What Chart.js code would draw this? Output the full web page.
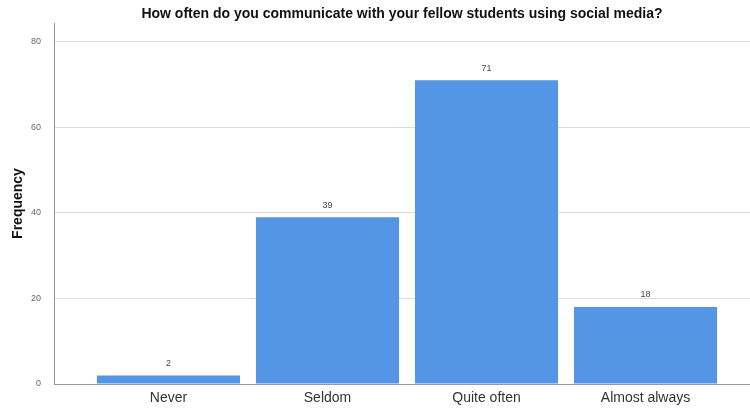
<!DOCTYPE html>
<html>
<head>
<meta charset="utf-8">
<script src="https://cdn.jsdelivr.net/npm/chart.js@4"></script>
<style>
  html, body { margin: 0; padding: 0; background: #fff; }
  #wrap { width: 750px; height: 410px; }
</style>
</head>
<body>
<div id="wrap"><canvas id="chart"></canvas></div>
<script>
var categories = ['Never', 'Seldom', 'Quite often', 'Almost always'];
var frequency = [2, 39, 71, 18];
var yTicks = [0, 20, 40, 60, 80];

var barLabels = {
    id: 'barLabels',
    afterDatasetsDraw: function (chart) {
        var ctx = chart.ctx;
        var meta = chart.getDatasetMeta(0);
        ctx.save();
        ctx.font = '9px "Liberation Sans", Arial, sans-serif';
        ctx.fillStyle = '#444';
        ctx.textAlign = 'center';
        ctx.textBaseline = 'middle';
        meta.data.forEach(function (bar, i) {
            ctx.fillText(String(frequency[i]), bar.x, bar.y - 12);
        });
        ctx.restore();
    }
};

new Chart(document.getElementById('chart').getContext('2d'), {
    type: 'bar',
    data: {
        datasets: [{
            data: frequency.map(function (v, i) { return { x: i, y: v }; }),
            backgroundColor: '#5595e5',
            categoryPercentage: 0.9,
            barPercentage: 1
        }]
    },
    options: {
        responsive: true,
        maintainAspectRatio: false,
        animation: false,
        layout: { padding: 0 },
        plugins: {
            legend: { display: false },
            tooltip: { enabled: false },
            title: {
                display: true,
                fullSize: false,
                text: 'How often do you communicate with your fellow students using social media?',
                color: '#111',
                font: { family: '"Liberation Sans", Arial, sans-serif', size: 14, weight: 'bold' },
                padding: { top: 5.5, bottom: 0.7 }
            }
        },
        scales: {
            x: {
                type: 'linear',
                offset: false,
                min: -0.72,
                max: 3.657,
                grid: { display: false, drawTicks: false },
                border: { display: true, color: '#999', width: 1 },
                afterBuildTicks: function (scale) {
                    scale.ticks = categories.map(function (c, i) { return { value: i }; });
                },
                afterFit: function (scale) { scale.height = 26; },
                ticks: {
                    padding: 6,
                    color: '#333',
                    autoSkip: false,
                    maxRotation: 0,
                    font: { family: '"Liberation Sans", Arial, sans-serif', size: 14 },
                    callback: function (value) { return categories[value]; }
                }
            },
            y: {
                min: 0,
                max: 84.4,
                grid: { color: '#dcdcdc', lineWidth: 1, drawTicks: false },
                border: { display: true, color: '#999', width: 1 },
                afterBuildTicks: function (scale) {
                    scale.ticks = yTicks.map(function (v) { return { value: v }; });
                },
                afterFit: function (scale) { scale.width = 54; },
                ticks: {
                    padding: 13,
                    color: '#666',
                    font: { family: '"Liberation Sans", Arial, sans-serif', size: 9 }
                },
                title: {
                    display: true,
                    text: 'Frequency',
                    color: '#111',
                    font: { family: '"Liberation Sans", Arial, sans-serif', size: 14, weight: 'bold' },
                    padding: { top: 10, bottom: 0 }
                }
            }
        }
    },
    plugins: [barLabels]
});
</script>
</body>
</html>
